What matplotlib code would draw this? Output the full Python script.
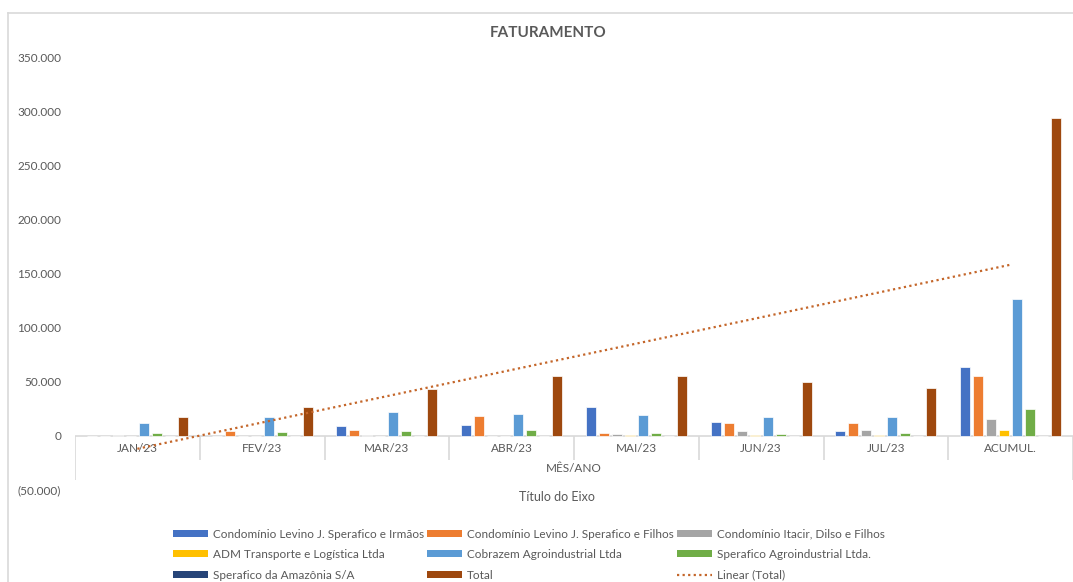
import numpy as np
import matplotlib.pyplot as plt
from matplotlib.lines import Line2D
from matplotlib.patches import Patch
from matplotlib.ticker import FuncFormatter

plt.rcParams['font.family'] = ['Lato', 'DejaVu Sans']

# data
months = ['JAN/23', 'FEV/23', 'MAR/23', 'ABR/23', 'MAI/23', 'JUN/23', 'JUL/23', 'ACUMUL.']
names = ['Condomínio Levino J. Sperafico e Irmãos',
         'Condomínio Levino J. Sperafico e Filhos',
         'Condomínio Itacir, Dilso e Filhos',
         'ADM Transporte e Logística Ltda',
         'Cobrazem Agroindustrial Ltda',
         'Sperafico Agroindustrial Ltda.',
         'Sperafico da Amazônia S/A',
         'Total']
levino_irmaos = [0, 0, 9000, 10200, 26600, 13000, 4300, 64200]
levino_filhos = [0, 4900, 5300, 18200, 3000, 11700, 12000, 55800]
itacir = [1000, 0, 1000, 0, 2100, 4300, 5800, 15700]
adm = [0, 0, 0, 0, 1200, 1200, 1000, 5800]
cobrazem = [11700, 17300, 22500, 20100, 19400, 17300, 17300, 126900]
sperafico_agro = [3000, 3700, 4300, 5300, 2500, 2100, 2800, 24700]
amazonia = [0, 0, 0, 0, 0, 0, 0, 0]
total = [17300, 26900, 43200, 55500, 55800, 50000, 44200, 294200]

series = [levino_irmaos, levino_filhos, itacir, adm, cobrazem, sperafico_agro, amazonia, total]
colors = ['#4472C4', '#ED7D31', '#A5A5A5', '#FFC000', '#5B9BD5', '#70AD47', '#264478', '#9E480E']
txt = '#595959'
grid = '#D9D9D9'
trend_col = '#C4662A'

W, H = 1073, 582
fig = plt.figure(figsize=(W / 100, H / 100), dpi=100)
ax = fig.add_axes([75 / W, 1 - 490 / H, (1073 - 75) / W, 432 / H])

x = np.arange(len(months))
step = 0.104
for i, (vals, col) in enumerate(zip(series, colors)):
    ax.bar(x + (i - 3.5) * step, vals, width=0.08, color=col,
           edgecolor='white', linewidth=0.5, zorder=3)

# linear trendline over Total (Excel-style, x = 1..n)
coef = np.polyfit(x + 1, total, 1)
trend = np.polyval(coef, x + 1)
ax.plot(x, trend, color=trend_col, lw=1.6, ls=(0, (1, 1.5)), zorder=4)

ax.set_xlim(-0.5, len(months) - 0.5)
ax.set_ylim(-50000, 350000)
ax.set_yticks(np.arange(-50000, 350001, 50000))
ax.yaxis.set_major_formatter(FuncFormatter(
    lambda v, p: '(' + f'{abs(v):,.0f}'.replace(',', '.') + ')' if v < 0 else f'{v:,.0f}'.replace(',', '.')))
ax.tick_params(axis='y', length=0, pad=10, labelsize=8.5, labelcolor=txt)
ax.set_xticks([])
for s in ax.spines.values():
    s.set_visible(False)

# multi-level category axis
ax.axhline(0, color=grid, lw=1.2, zorder=2)
bounds = np.arange(len(months) + 1) - 0.5
ax.vlines(bounds[1:-1], -22000, 0, color=grid, lw=1.2)
ax.vlines([bounds[0], bounds[-1]], -41000, 0, color=grid, lw=1.2)
for xi, m in zip(x, months):
    ax.text(xi, -12000, m, ha='center', va='center', fontsize=8.5, color=txt)
ax.text(x.mean(), -29800, 'MÊS/ANO', ha='center', va='center', fontsize=8.5, color=txt)

fig.text(557 / W, 1 - 497 / H, 'Título do Eixo', ha='center', va='center', fontsize=9, color=txt)
fig.text(548 / W, 1 - 33 / H, 'FATURAMENTO', ha='center', va='center', fontsize=11,
         fontweight='bold', color=txt)

# chart frame
fig.add_artist(Line2D([8 / W, 8 / W], [0, 1 - 13 / H], color=grid, lw=1.2))
fig.add_artist(Line2D([8 / W, 1], [1 - 13 / H, 1 - 13 / H], color=grid, lw=1.2))

handles = [Patch(facecolor=c) for c in colors] + \
          [Line2D([], [], color=trend_col, lw=1.6, ls=(0, (1, 1.5)))]
labels = names + ['Linear (Total)']
# legend fills column-wise, reorder so it reads row by row
order = [0, 3, 6, 1, 4, 7, 2, 5, 8]
fig.legend([handles[i] for i in order], [labels[i] for i in order], ncol=3, loc='upper left',
           bbox_to_anchor=(162 / W, 1 - 518 / H),
           frameon=False, fontsize=8.5, labelcolor=txt, handlelength=3.0, handleheight=0.55,
           handletextpad=0.4, columnspacing=0.25, labelspacing=0.8)

fig.savefig('out.png', dpi=100)
